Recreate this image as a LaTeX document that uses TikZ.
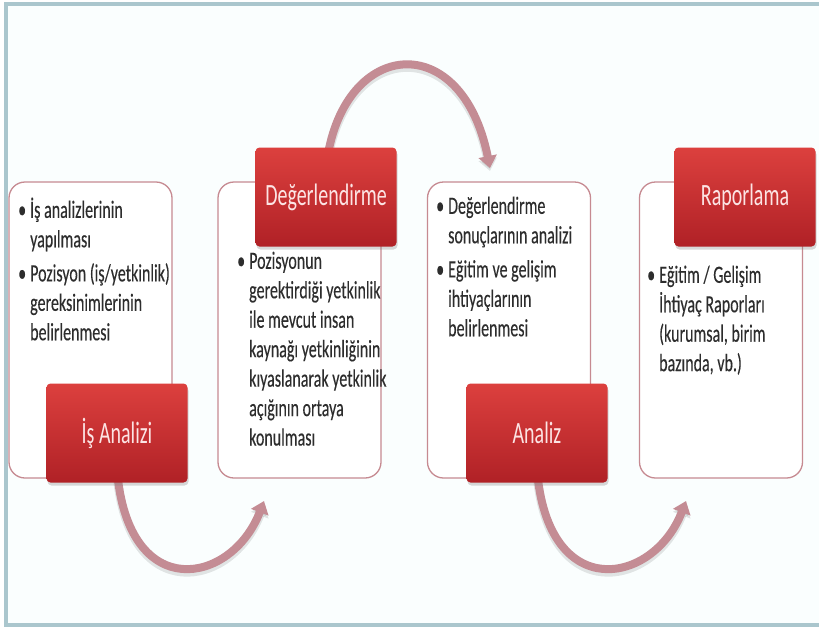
\documentclass[tikz,border=0pt]{standalone}
\usepackage{fontspec}
\setmainfont{Carlito}
\newfontfamily\bodyfont[FakeBold=0.3]{Carlito}
\usepackage{graphicx}
\usetikzlibrary{arrows.meta,shadows}
\definecolor{framec}{RGB}{170,198,205}
\definecolor{pagebg}{RGB}{250,254,254}
\definecolor{boxline}{RGB}{198,138,145}
\definecolor{redtop}{RGB}{220,64,62}
\definecolor{redbot}{RGB}{176,33,38}
\definecolor{labtxt}{RGB}{252,228,228}
\definecolor{bodytxt}{RGB}{45,45,45}
\definecolor{arrowc}{RGB}{196,140,148}
\newcommand{\tallt}[1]{\scalebox{1}[1.55]{#1}}

\begin{document}
\begin{tikzpicture}[x=1pt, y=-1pt,
  whitebox/.style={draw=boxline, line width=1.3pt, rounded corners=16pt, fill=white,
    minimum width=163pt, minimum height=296pt, inner sep=0pt},
  redlabel/.style={rounded corners=4pt, top color=redtop, bottom color=redbot,
    text=labtxt, font=\fontsize{20}{24}\selectfont, minimum width=141pt,
    minimum height=99pt, inner sep=0pt,
    drop shadow={opacity=0.3, shadow xshift=1pt, shadow yshift=-3pt}},
  bodytext/.style={anchor=north west, inner sep=0pt, text=bodytxt,
    font=\bodyfont\fontsize{16}{19}\selectfont},
  cycarrow/.style={draw=arrowc, line width=8pt, -{Triangle[width=18pt,length=12pt]},
    preaction={draw=black, opacity=0.1, line width=9pt, transform canvas={yshift=-3pt}}}]
  \useasboundingbox (0,0) rectangle (819,627);
  \clip (0,0) rectangle (819,627);
  % frame
  \draw[framec, line width=3.5pt, fill=pagebg] (6,4) rectangle (830,625);
  % content boxes
  \node[whitebox] (isbox) at (90.5,330) {};
  \node[whitebox] (degbox) at (299.5,330) {};
  \node[whitebox] (anbox) at (509,330) {};
  \node[whitebox] (rapbox) at (721,330) {};
  % bullet texts
  \node[bodytext] (istxt) at (18,197) {\tallt{\begin{tabular}[t]{@{}p{12pt}@{}l@{}}
    \textbullet & İş analizlerinin\\
    & yapılması\\[3pt]
    \textbullet & Pozisyon (iş/yetkinlik)\\
    & gereksinimlerinin\\
    & belirlenmesi
  \end{tabular}}};
  \node[bodytext] (degtxt) at (237,248) {\tallt{\begin{tabular}[t]{@{}p{12pt}@{}l@{}}
    \textbullet & Pozisyonun\\
    & gerektirdiği yetkinlik\\
    & ile mevcut insan\\
    & kaynağı yetkinliğinin\\
    & kıyaslanarak yetkinlik\\
    & açığının ortaya\\
    & konulması
  \end{tabular}}};
  \node[bodytext] (antxt) at (436,193) {\tallt{\begin{tabular}[t]{@{}p{12pt}@{}l@{}}
    \textbullet & Değerlendirme\\
    & sonuçlarının analizi\\[3pt]
    \textbullet & Eğitim ve gelişim\\
    & ihtiyaçlarının\\
    & belirlenmesi
  \end{tabular}}};
  \node[bodytext] (raptxt) at (647,262) {\tallt{\begin{tabular}[t]{@{}p{12pt}@{}l@{}}
    \textbullet & Eğitim / Gelişim\\
    & İhtiyaç Raporları\\
    & (kurumsal, birim\\
    & bazında, vb.)
  \end{tabular}}};
  % cycle arrows
  \coordinate (a1end) at (264,501);
  \coordinate (a2end) at (490,168);
  \coordinate (a3end) at (686,501);
  \draw[cycarrow] (117,470) .. controls (128,605) and (232,585) .. (a1end);
  \draw[cycarrow] (327,160) .. controls (345,38) and (462,28) .. (a2end);
  \draw[cycarrow] (537,470) .. controls (548,605) and (654,585) .. (a3end);
  % step labels
  \node[redlabel] (isa) at (117,433) {\tallt{İş Analizi}};
  \node[redlabel] (deg) at (326,197) {\tallt{Değerlendirme}};
  \node[redlabel] (anl) at (537,433) {\tallt{Analiz}};
  \node[redlabel] (rap) at (745,197) {\tallt{Raporlama}};
\end{tikzpicture}
\end{document}
